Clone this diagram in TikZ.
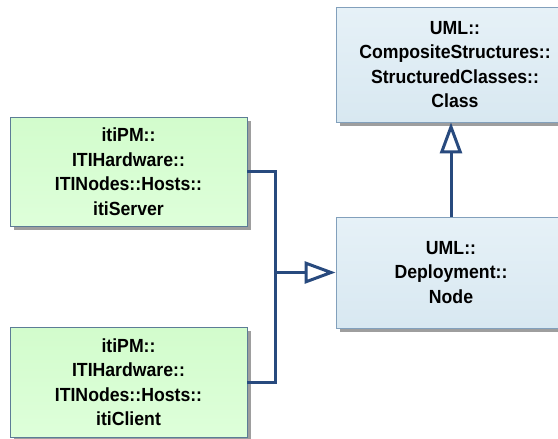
\documentclass[tikz,border=0pt]{standalone}
\usepackage{fontspec}
\newfontfamily\boxfont{Liberation Sans}[FakeStretch=0.93]
\usetikzlibrary{arrows.meta,shadows}

\definecolor{linkblue}{RGB}{40,74,126}
\definecolor{greentop}{RGB}{210,252,204}
\definecolor{greenbot}{RGB}{222,255,218}
\definecolor{greenedge}{RGB}{92,124,150}
\definecolor{bluetop}{RGB}{230,241,247}
\definecolor{bluebot}{RGB}{216,232,241}
\definecolor{blueedge}{RGB}{130,160,188}

\tikzset{
  classbox/.style={
    draw, line width=0.9pt, inner sep=0pt, align=center,
    font=\boxfont\bfseries\fontsize{19}{24.5}\selectfont,
    drop shadow={shadow xshift=4pt, shadow yshift=-4pt, fill=black!38, opacity=1}
  },
  hostbox/.style={classbox, draw=greenedge, top color=greentop, bottom color=greenbot},
  umlbox/.style={classbox, draw=blueedge, top color=bluetop, bottom color=bluebot},
  link/.style={draw=linkblue, line width=3pt},
  generalize/.style={link, -{Triangle[open, length=31pt, width=22pt, line width=3pt]}}
}

\begin{document}
\begin{tikzpicture}[x=1pt, y=-1pt]
  \useasboundingbox (0,0) rectangle (558,439);

  \node[hostbox, minimum width=237pt, minimum height=109pt] (server) at (128.5,171.5)
    {itiPM::\\ITIHardware::\\ITINodes::Hosts::\\itiServer};
  \node[hostbox, minimum width=237pt, minimum height=110pt] (client) at (128.5,382)
    {itiPM::\\ITIHardware::\\ITINodes::Hosts::\\itiClient};
  \node[umlbox, minimum width=238pt, minimum height=115pt] (class) at (455,64.5)
    {UML::\\CompositeStructures::\\StructuredClasses::\\Class};
  \node[umlbox, minimum width=230pt, minimum height=111pt] (dnode) at (451,272.5)
    {UML::\\Deployment::\\Node};

  \coordinate (join) at (275,272.5);

  \draw[link] (server.east) -| (join) |- (client.east);
  \draw[generalize] (join) -- (dnode.west);
  \draw[generalize] (dnode.north) -- (dnode.north |- class.south);
\end{tikzpicture}
\end{document}
